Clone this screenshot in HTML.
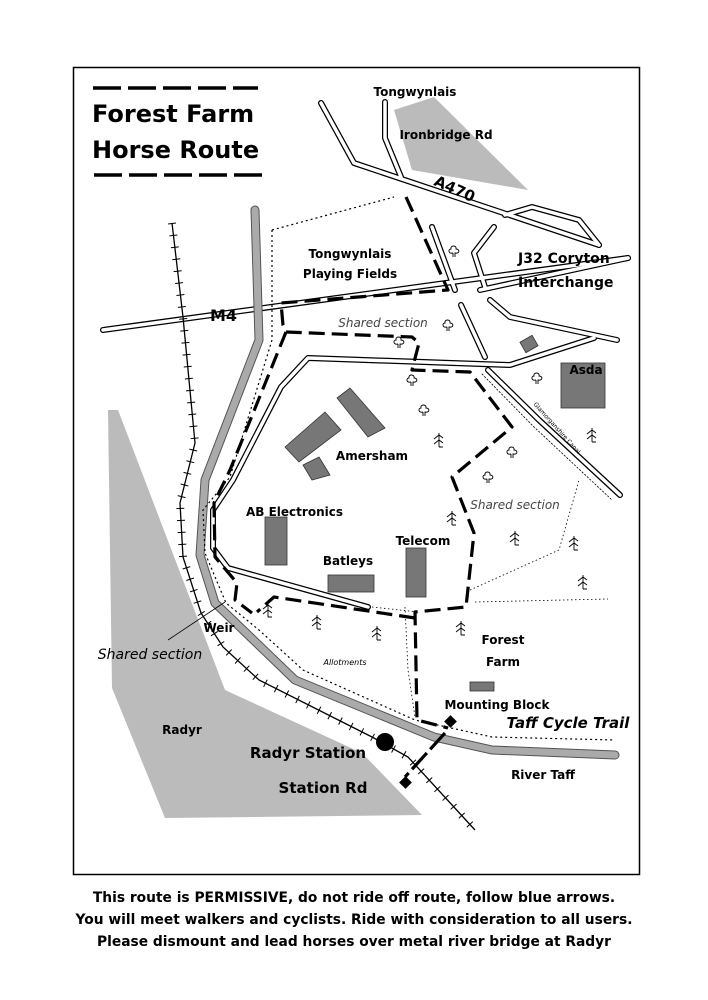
<!DOCTYPE html>
<html><head><meta charset="utf-8"><style>
html,body{margin:0;padding:0;background:#fff;}
svg{display:block;}
text{font-family:"DejaVu Sans","Liberation Sans",sans-serif;}
</style></head><body>
<svg width="708" height="1000" viewBox="0 0 708 1000" xmlns="http://www.w3.org/2000/svg">
<defs>
<symbol id="cl" viewBox="-6 -6 12 14" overflow="visible">
<path d="M-1,3 C-6,4 -6,-1 -3,-1 C-4,-5 3,-5 2,-1 C6,-1 6,4 1,3 L1,7 M-1,3 L-1,7" fill="none" stroke="#000" stroke-width="0.9"/>
</symbol>
<symbol id="pn" viewBox="-6 -7 12 14" overflow="visible">
<path d="M0,-7 L0,7 M-5,-1 L0,-5 L4,-2 M-5,4 L0,0 L4,3 M0,7 L4,7" fill="none" stroke="#000" stroke-width="0.9"/>
</symbol>
</defs>
<rect x="0" y="0" width="708" height="1000" fill="#fff"/>
<rect x="73.5" y="67.5" width="566" height="807" fill="none" stroke="#000" stroke-width="1.5"/>

<polygon points="394,110 434,97 528,190 412,170" fill="#bbb"/>
<polygon points="108,410 118,410 225,690 362,753 422,815 165,818 112,688" fill="#bbb"/>

<g fill="none" stroke-linejoin="round" stroke-linecap="round">
<g stroke="#000" stroke-width="6">
<polyline points="321,103 354,163 599,245"/>
<polyline points="385,102 385,138 401,177"/>
<polyline points="505,215 532,207 579,220 599,245"/>
<polyline points="494,227 474,253 485,287"/>
<polyline points="103,330 628,258"/>
<polyline points="432,227 455,290"/>
<polyline points="461,305 485,357"/>
<polyline points="490,300 510,317 617,340"/>
<polyline points="594,338 510,365 308,358 281,387 233,480 213,510 213,548 228,568 368,607"/>
<polyline points="480,290 628,258"/>
<polyline points="488,370 539,420 620,495"/>
</g>
<g stroke="#fff" stroke-width="3.5">
<polyline points="321,103 354,163 599,245"/>
<polyline points="385,102 385,138 401,177"/>
<polyline points="505,215 532,207 579,220 599,245"/>
<polyline points="494,227 474,253 485,287"/>
<polyline points="103,330 628,258"/>
<polyline points="432,227 455,290"/>
<polyline points="461,305 485,357"/>
<polyline points="490,300 510,317 617,340"/>
<polyline points="594,338 510,365 308,358 281,387 233,480 213,510 213,548 228,568 368,607"/>
<polyline points="480,290 628,258"/>
<polyline points="488,370 539,420 620,495"/>
</g>
<polyline points="482,374 533,426 612,500" stroke="#000" stroke-width="0.8" stroke-dasharray="1.5,2"/>
</g>

<g fill="none" stroke-linejoin="round" stroke-linecap="round">
<polyline points="255,210 259,340 205,480 200,555 215,603 295,680 434,737 492,750 615,755" stroke="#555" stroke-width="9"/>
<polyline points="255,210 259,340 205,480 200,555 215,603 295,680 434,737 492,750 615,755" stroke="#aaa" stroke-width="7"/>
</g>

<g fill="none" stroke="#000">
<polyline points="172,223 183,317 195,443 180,503 183,557 201,613 223,647 259,680 372,737 408,757 475,830" stroke-width="1.3"/>
<polyline points="172,223 183,317 195,443 180,503 183,557 201,613 223,647 259,680 372,737 408,757 475,830" stroke-width="8" stroke-dasharray="1,11"/>
</g>
<g fill="none" stroke="#000" stroke-width="1.2">
<polyline points="272,230 394,197" stroke-dasharray="2,3"/>
<polyline points="272,230 272,340 230,477 203,510 205,553 226,603 259,630 303,670 415,720 492,737 615,740" stroke-dasharray="2,3"/>
<polyline points="470,590 559,550 579,480" stroke-width="0.8" stroke-dasharray="1.5,2.5"/>
<polyline points="475,602 608,599" stroke-width="0.8" stroke-dasharray="1.5,2.5"/>
<polyline points="372,607 418,612" stroke-width="0.8" stroke-dasharray="1.5,2.5"/>
<polyline points="405,607 408,670 415,717" stroke-width="0.8" stroke-dasharray="1.5,2.5"/>
</g>

<g fill="none" stroke="#000" stroke-width="3.2" stroke-dasharray="16,7" stroke-linejoin="round">
<polyline points="406,197 448,290 281,303 283,325 286,332 412,337 419,343 412,370 470,372 512,427 452,477 474,533 466,607 415,612 417,720 448,728"/>
<polyline points="415,618 274,597 257,612"/>
<polyline points="286,332 230,470 214,503 215,557 237,583 235,600 252,613"/>
<polyline points="445,733 405,777" stroke-dasharray="22,5"/>
</g>
<rect x="446" y="717" width="9" height="9" transform="rotate(45 450.5 721.5)" fill="#000"/>
<rect x="401" y="778" width="9" height="9" transform="rotate(45 405.5 782.5)" fill="#000"/>
<circle cx="385" cy="742" r="9" fill="#000"/>

<g fill="#777" stroke="#333" stroke-width="0.8">
<polygon points="285,447 325,412 341,430 299,462"/>
<polygon points="337,398 350,388 385,428 368,437"/>
<polygon points="303,465 319,457 330,475 312,480"/>
<rect x="265" y="517" width="22" height="48"/>
<rect x="328" y="575" width="46" height="17"/>
<rect x="406" y="548" width="20" height="49"/>
<rect x="470" y="682" width="24" height="9"/>
<rect x="561" y="363" width="44" height="45"/>
<rect x="522" y="338" width="14" height="12" transform="rotate(-30 529 344)"/>
</g>

<g>
<use href="#cl" x="448" y="244" width="12" height="14"/>
<use href="#cl" x="442" y="318" width="12" height="14"/>
<use href="#cl" x="393" y="335" width="12" height="14"/>
<use href="#cl" x="406" y="373" width="12" height="14"/>
<use href="#cl" x="418" y="403" width="12" height="14"/>
<use href="#cl" x="531" y="371" width="12" height="14"/>
<use href="#cl" x="506" y="445" width="12" height="14"/>
<use href="#cl" x="482" y="470" width="12" height="14"/>
<use href="#pn" x="433" y="433" width="12" height="14"/>
<use href="#pn" x="586" y="428" width="12" height="14"/>
<use href="#pn" x="446" y="511" width="12" height="14"/>
<use href="#pn" x="509" y="531" width="12" height="14"/>
<use href="#pn" x="568" y="536" width="12" height="14"/>
<use href="#pn" x="577" y="575" width="12" height="14"/>
<use href="#pn" x="262" y="603" width="12" height="14"/>
<use href="#pn" x="311" y="615" width="12" height="14"/>
<use href="#pn" x="371" y="626" width="12" height="14"/>
<use href="#pn" x="455" y="621" width="12" height="14"/>
</g>

<line x1="225" y1="602" x2="168" y2="640" stroke="#000" stroke-width="0.8"/>

<g stroke="#000" stroke-width="3.5">
<line x1="93" y1="88" x2="258" y2="88" stroke-dasharray="28,7"/>
<line x1="94" y1="175" x2="262" y2="175" stroke-dasharray="28,7"/>
</g>
<text x="92" y="122" font-size="24" font-weight="bold">Forest Farm</text>
<text x="92" y="158" font-size="24" font-weight="bold">Horse Route</text>

<g font-size="12" font-weight="bold" fill="#000">
<text x="415" y="96" text-anchor="middle">Tongwynlais</text>
<text x="446" y="139" text-anchor="middle">Ironbridge Rd</text>
<text x="455" y="194" text-anchor="middle" font-size="15" transform="rotate(24 455 188)">A470</text>
<text x="350" y="258" text-anchor="middle">Tongwynlais</text>
<text x="350" y="278" text-anchor="middle">Playing Fields</text>
<text x="518" y="263" font-size="14">J32 Coryton</text>
<text x="518" y="287" font-size="14">Interchange</text>
<text x="210" y="321" font-size="16">M4</text>
<text x="586" y="374" text-anchor="middle">Asda</text>
<text x="372" y="460" text-anchor="middle">Amersham</text>
<text x="246" y="516">AB Electronics</text>
<text x="348" y="565" text-anchor="middle">Batleys</text>
<text x="423" y="545" text-anchor="middle">Telecom</text>
<text x="503" y="644" text-anchor="middle">Forest</text>
<text x="503" y="666" text-anchor="middle">Farm</text>
<text x="497" y="709" text-anchor="middle">Mounting Block</text>
<text x="219" y="632" text-anchor="middle">Weir</text>
<text x="182" y="734" text-anchor="middle">Radyr</text>
<text x="308" y="758" text-anchor="middle" font-size="15">Radyr Station</text>
<text x="323" y="793" text-anchor="middle" font-size="15">Station Rd</text>
<text x="543" y="779" text-anchor="middle">River Taff</text>
<text x="568" y="728" text-anchor="middle" font-size="15" font-style="italic">Taff Cycle Trail</text>
</g>
<g font-style="italic" fill="#444" font-size="12">
<text x="383" y="327" text-anchor="middle">Shared section</text>
<text x="515" y="509" text-anchor="middle">Shared section</text>
</g>
<text x="150" y="659" text-anchor="middle" font-size="14" font-style="italic">Shared section</text>
<text x="345" y="665" text-anchor="middle" font-size="8" font-style="italic" font-family="Liberation Serif,serif">Allotments</text>
<text x="557" y="430" text-anchor="middle" font-size="6" transform="rotate(48 557 428)">Glamorganshire Canal</text>

<g font-size="13.8" font-weight="bold" text-anchor="middle">
<text x="354" y="902">This route is PERMISSIVE, do not ride off route, follow blue arrows.</text>
<text x="354" y="924">You will meet walkers and cyclists. Ride with consideration to all users.</text>
<text x="354" y="946">Please dismount and lead horses over metal river bridge at Radyr</text>
</g>
</svg>
</body></html>
